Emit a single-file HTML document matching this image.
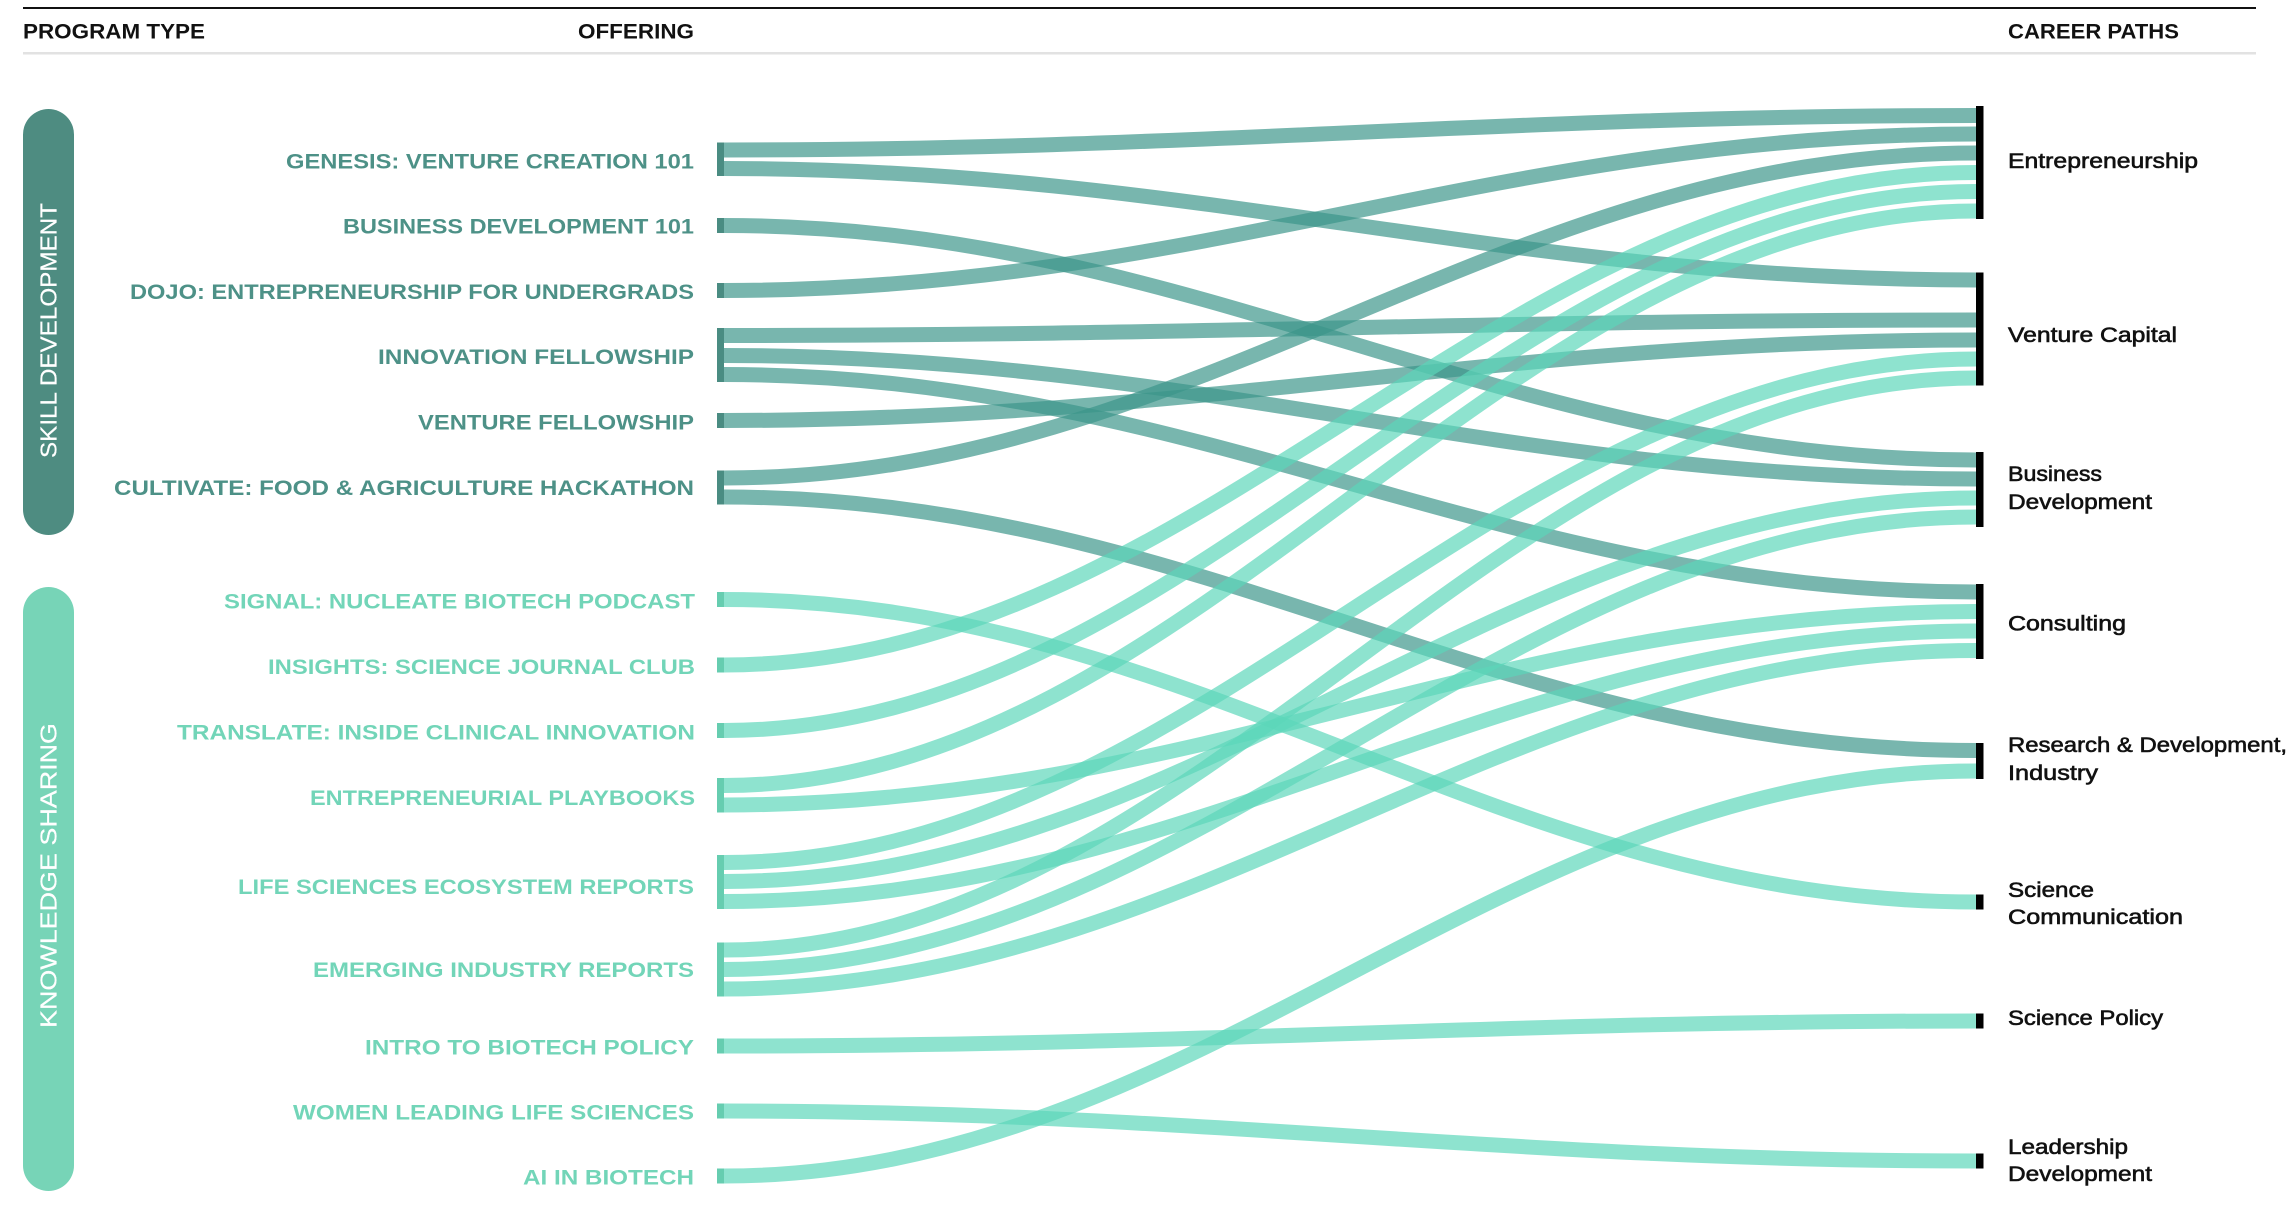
<!DOCTYPE html>
<html><head><meta charset="utf-8"><style>
html,body{margin:0;padding:0;background:#fff;}
svg{display:block;}
text{font-family:"Liberation Sans",Arial,sans-serif;}
</style></head><body>
<svg width="2292" height="1220" viewBox="0 0 2292 1220" xmlns="http://www.w3.org/2000/svg">
<rect width="2292" height="1220" fill="#fff"/>
<!-- header -->
<rect x="23" y="7" width="2233" height="2" fill="#111"/>
<rect x="23" y="52" width="2233" height="2.5" fill="#e2e2e2"/>
<g font-weight="bold" font-size="21" fill="#111">
<text x="23" y="38.5" textLength="182" lengthAdjust="spacingAndGlyphs">PROGRAM TYPE</text>
<text x="578" y="38.5" textLength="116" lengthAdjust="spacingAndGlyphs">OFFERING</text>
<text x="2008" y="38.5" textLength="171" lengthAdjust="spacingAndGlyphs">CAREER PATHS</text>
</g>
<!-- pills -->
<rect x="23" y="109" width="51" height="426" rx="25.5" fill="#4e8c81"/>
<rect x="23" y="587" width="51" height="604" rx="25.5" fill="#77d4b7"/>
<g font-size="23" fill="#fff" text-anchor="middle" stroke="#fff" stroke-width="0.2">
<text transform="translate(56.5,330.5) rotate(-90)" textLength="255" lengthAdjust="spacingAndGlyphs">SKILL DEVELOPMENT</text>
<text transform="translate(56.5,875.5) rotate(-90)" textLength="305" lengthAdjust="spacingAndGlyphs">KNOWLEDGE SHARING</text>
</g>
<!-- flows dark -->
<g fill="none" stroke="#3b9589" stroke-opacity="0.69" stroke-width="15">
<path d="M724 150 C1200 150 1500 115.5 1976 115.5"/>
<path d="M724 168.5 C1200 168.5 1500 280 1976 280"/>
<path d="M724 225.5 C1200 225.5 1500 460 1976 460"/>
<path d="M724 290.5 C1200 290.5 1500 134 1976 134"/>
<path d="M724 335.5 C1200 335.5 1500 320 1976 320"/>
<path d="M724 355.5 C1200 355.5 1500 479 1976 479"/>
<path d="M724 374.5 C1200 374.5 1500 592 1976 592"/>
<path d="M724 420.5 C1200 420.5 1500 340 1976 340"/>
<path d="M724 478 C1200 478 1500 153 1976 153"/>
<path d="M724 497 C1200 497 1500 750.5 1976 750.5"/>
</g>
<!-- flows light -->
<g fill="none" stroke="#5bd6b9" stroke-opacity="0.69" stroke-width="15">
<path d="M724 599.5 C1200 599.5 1500 902 1976 902"/>
<path d="M724 665 C1200 665 1500 172.5 1976 172.5"/>
<path d="M724 730.5 C1200 730.5 1500 191.5 1976 191.5"/>
<path d="M724 785.5 C1200 785.5 1500 211 1976 211"/>
<path d="M724 805 C1200 805 1500 611.5 1976 611.5"/>
<path d="M724 862.5 C1200 862.5 1500 359 1976 359"/>
<path d="M724 881.5 C1200 881.5 1500 498 1976 498"/>
<path d="M724 901.5 C1200 901.5 1500 631 1976 631"/>
<path d="M724 950 C1200 950 1500 378 1976 378"/>
<path d="M724 969.5 C1200 969.5 1500 517 1976 517"/>
<path d="M724 989 C1200 989 1500 650.5 1976 650.5"/>
<path d="M724 1046 C1200 1046 1500 1021 1976 1021"/>
<path d="M724 1111 C1200 1111 1500 1161 1976 1161"/>
<path d="M724 1176 C1200 1176 1500 771 1976 771"/>
</g>
<!-- source node bars -->
<g fill="#4a8c82">
<rect x="717" y="142.5" width="7" height="33.5"/>
<rect x="717" y="218" width="7" height="15"/>
<rect x="717" y="283" width="7" height="15"/>
<rect x="717" y="328" width="7" height="54"/>
<rect x="717" y="413" width="7" height="15"/>
<rect x="717" y="470.5" width="7" height="34"/>
</g>
<g fill="#66cdb0">
<rect x="717" y="592" width="7" height="15"/>
<rect x="717" y="657.5" width="7" height="15"/>
<rect x="717" y="723" width="7" height="15"/>
<rect x="717" y="778" width="7" height="34.5"/>
<rect x="717" y="855" width="7" height="54"/>
<rect x="717" y="942.5" width="7" height="54"/>
<rect x="717" y="1038.5" width="7" height="15"/>
<rect x="717" y="1103.5" width="7" height="15"/>
<rect x="717" y="1168.5" width="7" height="15"/>
</g>
<!-- target bars -->
<g fill="#000">
<rect x="1976" y="106" width="7.5" height="113"/>
<rect x="1976" y="272.5" width="7.5" height="113"/>
<rect x="1976" y="452" width="7.5" height="75"/>
<rect x="1976" y="584" width="7.5" height="75"/>
<rect x="1976" y="743" width="7.5" height="36"/>
<rect x="1976" y="894.5" width="7.5" height="15"/>
<rect x="1976" y="1013.5" width="7.5" height="15"/>
<rect x="1976" y="1153.5" width="7.5" height="15"/>
</g>
<!-- offering labels -->
<g font-weight="bold" font-size="21.5" text-anchor="end" fill="#4d9187">
<text x="694" y="168.3" textLength="408" lengthAdjust="spacingAndGlyphs">GENESIS: VENTURE CREATION 101</text>
<text x="694" y="233.3" textLength="351" lengthAdjust="spacingAndGlyphs">BUSINESS DEVELOPMENT 101</text>
<text x="694" y="298.8" textLength="564" lengthAdjust="spacingAndGlyphs">DOJO: ENTREPRENEURSHIP FOR UNDERGRADS</text>
<text x="694" y="363.8" textLength="316" lengthAdjust="spacingAndGlyphs">INNOVATION FELLOWSHIP</text>
<text x="694" y="429.3" textLength="276" lengthAdjust="spacingAndGlyphs">VENTURE FELLOWSHIP</text>
<text x="694" y="494.8" textLength="580" lengthAdjust="spacingAndGlyphs">CULTIVATE: FOOD &amp; AGRICULTURE HACKATHON</text>
</g>
<g font-weight="bold" font-size="21.5" text-anchor="end" fill="#72d5b8">
<text x="695" y="608.3" textLength="471" lengthAdjust="spacingAndGlyphs">SIGNAL: NUCLEATE BIOTECH PODCAST</text>
<text x="695" y="673.8" textLength="427" lengthAdjust="spacingAndGlyphs">INSIGHTS: SCIENCE JOURNAL CLUB</text>
<text x="695" y="739.3" textLength="518" lengthAdjust="spacingAndGlyphs">TRANSLATE: INSIDE CLINICAL INNOVATION</text>
<text x="695" y="804.8" textLength="385" lengthAdjust="spacingAndGlyphs">ENTREPRENEURIAL PLAYBOOKS</text>
<text x="694" y="893.8" textLength="456" lengthAdjust="spacingAndGlyphs">LIFE SCIENCES ECOSYSTEM REPORTS</text>
<text x="694" y="976.8" textLength="381" lengthAdjust="spacingAndGlyphs">EMERGING INDUSTRY REPORTS</text>
<text x="694" y="1054.3" textLength="329" lengthAdjust="spacingAndGlyphs">INTRO TO BIOTECH POLICY</text>
<text x="694" y="1119.3" textLength="401" lengthAdjust="spacingAndGlyphs">WOMEN LEADING LIFE SCIENCES</text>
<text x="694" y="1184.3" textLength="171" lengthAdjust="spacingAndGlyphs">AI IN BIOTECH</text>
</g>
<!-- career labels -->
<g font-size="21" fill="#111" stroke="#111" stroke-width="0.6">
<text x="2008" y="168" textLength="190" lengthAdjust="spacingAndGlyphs">Entrepreneurship</text>
<text x="2008" y="342" textLength="169" lengthAdjust="spacingAndGlyphs">Venture Capital</text>
<text x="2008" y="481" textLength="94" lengthAdjust="spacingAndGlyphs">Business</text>
<text x="2008" y="509" textLength="144" lengthAdjust="spacingAndGlyphs">Development</text>
<text x="2008" y="630.5" textLength="118" lengthAdjust="spacingAndGlyphs">Consulting</text>
<text x="2008" y="752" textLength="279" lengthAdjust="spacingAndGlyphs">Research &amp; Development,</text>
<text x="2008" y="780" textLength="90" lengthAdjust="spacingAndGlyphs">Industry</text>
<text x="2008" y="897" textLength="86" lengthAdjust="spacingAndGlyphs">Science</text>
<text x="2008" y="924" textLength="175" lengthAdjust="spacingAndGlyphs">Communication</text>
<text x="2008" y="1025" textLength="155" lengthAdjust="spacingAndGlyphs">Science Policy</text>
<text x="2008" y="1154" textLength="120" lengthAdjust="spacingAndGlyphs">Leadership</text>
<text x="2008" y="1181" textLength="144" lengthAdjust="spacingAndGlyphs">Development</text>
</g>
</svg>
</body></html>
